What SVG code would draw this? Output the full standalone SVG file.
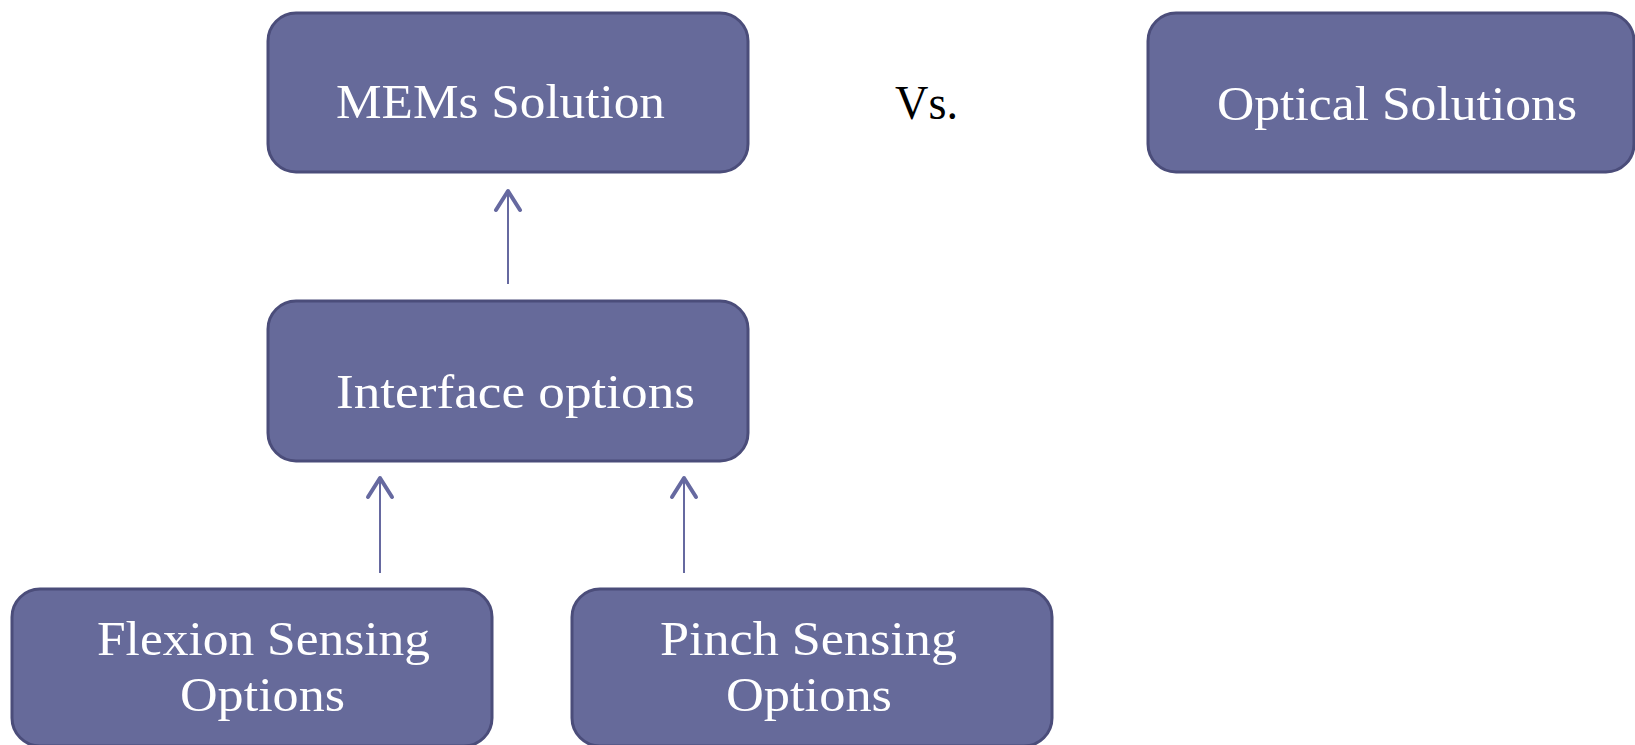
<svg xmlns="http://www.w3.org/2000/svg" width="1635" height="745" viewBox="0 0 1635 745">
  <style>
    .box { fill: #666a9a; stroke: #4b4d7a; stroke-width: 3; }
    .lbl { font-family: "Liberation Serif", "DejaVu Serif", serif; font-size: 48px; fill: #ffffff; }
    .vs { font-family: "Liberation Serif", serif; font-size: 48px; fill: #000000; }
    .conn { stroke: #6669a0; stroke-width: 2; fill: none; }
    .head { fill: none; stroke: #6669a0; stroke-width: 4; stroke-linecap: round; stroke-linejoin: round; }
  </style>
  <rect width="1635" height="745" fill="#ffffff"/>

  <g id="connectors">
    <g>
      <line class="conn" x1="508" y1="284" x2="508" y2="192"/>
      <path class="head" d="M 496 210 L 508 191 L 520 210"/>
    </g>
    <g>
      <line class="conn" x1="380" y1="573" x2="380" y2="479"/>
      <path class="head" d="M 368 497 L 380 478 L 392 497"/>
    </g>
    <g>
      <line class="conn" x1="684" y1="573" x2="684" y2="479"/>
      <path class="head" d="M 672 497 L 684 478 L 696 497"/>
    </g>
  </g>

  <g id="mems">
    <rect class="box" x="268" y="13" width="480" height="159" rx="28"/>
    <text class="lbl" x="336" y="118" textLength="329" lengthAdjust="spacingAndGlyphs">MEMs Solution</text>
  </g>

  <g id="vs">
    <text class="vs" x="895" y="119" textLength="63" lengthAdjust="spacingAndGlyphs">Vs.</text>
  </g>

  <g id="optical">
    <rect class="box" x="1148" y="13" width="486" height="159" rx="28"/>
    <text class="lbl" x="1217" y="120" textLength="360" lengthAdjust="spacingAndGlyphs">Optical Solutions</text>
  </g>

  <g id="interface">
    <rect class="box" x="268" y="301" width="480" height="160" rx="28"/>
    <text class="lbl" x="336" y="408" textLength="359" lengthAdjust="spacingAndGlyphs">Interface options</text>
  </g>

  <g id="flexion">
    <rect class="box" x="12" y="589" width="480" height="157" rx="28"/>
    <text class="lbl" x="97" y="655" textLength="333" lengthAdjust="spacingAndGlyphs">Flexion Sensing</text>
    <text class="lbl" x="180" y="711" textLength="165" lengthAdjust="spacingAndGlyphs">Options</text>
  </g>

  <g id="pinch">
    <rect class="box" x="572" y="589" width="480" height="157" rx="28"/>
    <text class="lbl" x="660" y="655" textLength="297" lengthAdjust="spacingAndGlyphs">Pinch Sensing</text>
    <text class="lbl" x="726" y="711" textLength="166" lengthAdjust="spacingAndGlyphs">Options</text>
  </g>
</svg>
